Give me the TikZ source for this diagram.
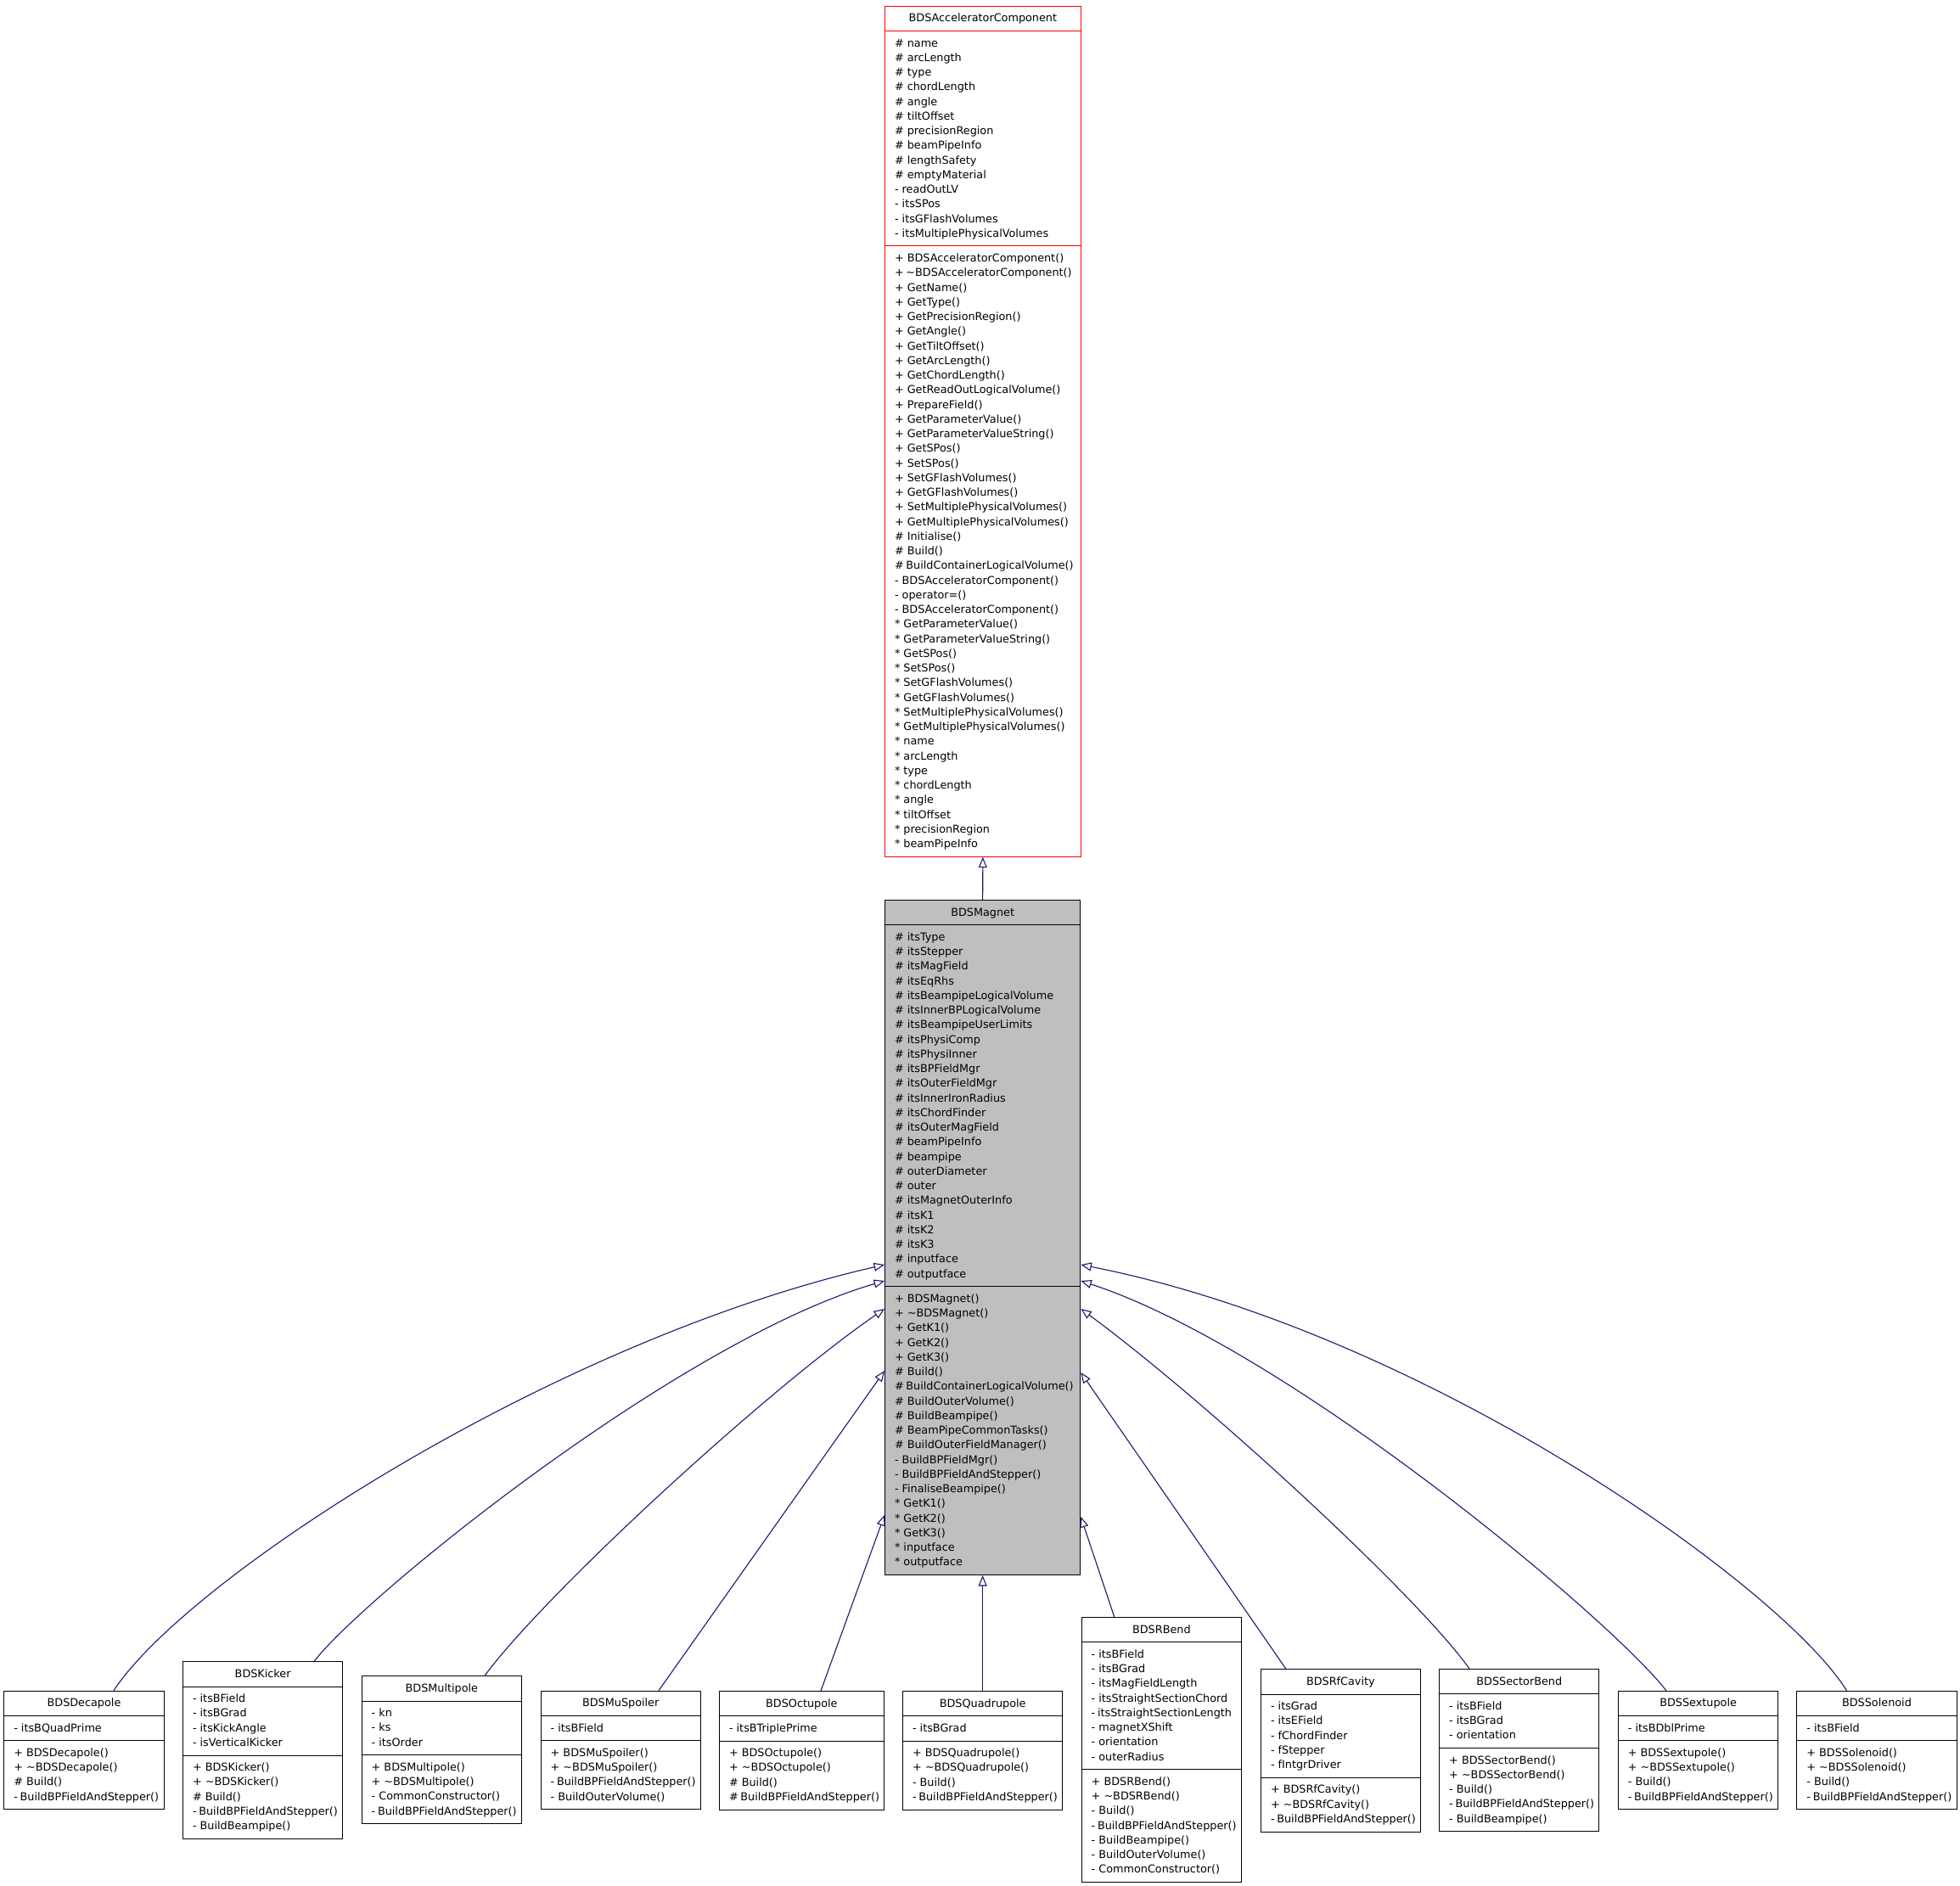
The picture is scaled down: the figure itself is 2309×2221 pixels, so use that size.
\documentclass[tikz,border=0pt]{standalone}
\usepackage{fontspec}
\setmainfont{DejaVu Sans}
\usetikzlibrary{shapes.multipart,arrows.meta,calc}
\definecolor{edgeblue}{HTML}{191970}
\definecolor{magfill}{HTML}{BFBFBF}
\definecolor{basered}{HTML}{FF0000}
\newlength\bw
\newcommand\Strut{\vrule width0pt height12.55pt depth4.7pt}
\newcommand\Ln[1]{\hbox to\bw{\Strut#1\hfil}}
\newcommand\Ttl[1]{\hbox to\bw{\hfil\Strut#1\hfil}}
\newcommand\Blk[1]{\vbox{\offinterlineskip#1}}
\tikzset{
  umlbox/.style={rectangle split, rectangle split parts=3, draw=black, fill=white,
    line width=1pt, inner xsep=11.5pt, inner ysep=5.5pt, anchor=north west,
    font=\fontsize{12.8pt}{17.25pt}\selectfont},
  baseclass/.style={draw=basered},
  focusclass/.style={fill=magfill},
  inh/.style={draw=edgeblue, line width=1.1pt, -{Triangle[open,length=12.5pt,width=10pt]}}
}
\newcommand\umlclass[8]{%
  \pgfmathsetlength{\bw}{#4-#2-23}%
  \node[umlbox,#5] (#1) at (#2,#3) {\Ttl{#6}\nodepart{second}\Blk{#7}\nodepart{third}\Blk{#8}};}
\begin{document}
\begin{tikzpicture}[x=1pt,y=-1pt]
\useasboundingbox (0,0) rectangle (2309,2221);

\umlclass{acc}{1042}{6.7}{1272.7}{baseclass}{BDSAcceleratorComponent}
{\Ln{\# name}\Ln{\# arcLength}\Ln{\# type}\Ln{\# chordLength}\Ln{\# angle}\Ln{\# tiltOffset}\Ln{\# precisionRegion}\Ln{\# beamPipeInfo}\Ln{\# lengthSafety}\Ln{\# emptyMaterial}\Ln{- readOutLV}\Ln{- itsSPos}\Ln{- itsGFlashVolumes}\Ln{- itsMultiplePhysicalVolumes}}
{\Ln{+ BDSAcceleratorComponent()}\Ln{+ \textasciitilde BDSAcceleratorComponent()}\Ln{+ GetName()}\Ln{+ GetType()}\Ln{+ GetPrecisionRegion()}\Ln{+ GetAngle()}\Ln{+ GetTiltOffset()}\Ln{+ GetArcLength()}\Ln{+ GetChordLength()}\Ln{+ GetReadOutLogicalVolume()}\Ln{+ PrepareField()}\Ln{+ GetParameterValue()}\Ln{+ GetParameterValueString()}\Ln{+ GetSPos()}\Ln{+ SetSPos()}\Ln{+ SetGFlashVolumes()}\Ln{+ GetGFlashVolumes()}\Ln{+ SetMultiplePhysicalVolumes()}\Ln{+ GetMultiplePhysicalVolumes()}\Ln{\# Initialise()}\Ln{\# Build()}\Ln{\# BuildContainerLogicalVolume()}\Ln{- BDSAcceleratorComponent()}\Ln{- operator=()}\Ln{- BDSAcceleratorComponent()}\Ln{* GetParameterValue()}\Ln{* GetParameterValueString()}\Ln{* GetSPos()}\Ln{* SetSPos()}\Ln{* SetGFlashVolumes()}\Ln{* GetGFlashVolumes()}\Ln{* SetMultiplePhysicalVolumes()}\Ln{* GetMultiplePhysicalVolumes()}\Ln{* name}\Ln{* arcLength}\Ln{* type}\Ln{* chordLength}\Ln{* angle}\Ln{* tiltOffset}\Ln{* precisionRegion}\Ln{* beamPipeInfo}}

\umlclass{mag}{1042}{1060}{1272.3}{focusclass}{BDSMagnet}
{\Ln{\# itsType}\Ln{\# itsStepper}\Ln{\# itsMagField}\Ln{\# itsEqRhs}\Ln{\# itsBeampipeLogicalVolume}\Ln{\# itsInnerBPLogicalVolume}\Ln{\# itsBeampipeUserLimits}\Ln{\# itsPhysiComp}\Ln{\# itsPhysiInner}\Ln{\# itsBPFieldMgr}\Ln{\# itsOuterFieldMgr}\Ln{\# itsInnerIronRadius}\Ln{\# itsChordFinder}\Ln{\# itsOuterMagField}\Ln{\# beamPipeInfo}\Ln{\# beampipe}\Ln{\# outerDiameter}\Ln{\# outer}\Ln{\# itsMagnetOuterInfo}\Ln{\# itsK1}\Ln{\# itsK2}\Ln{\# itsK3}\Ln{\# inputface}\Ln{\# outputface}}
{\Ln{+ BDSMagnet()}\Ln{+ \textasciitilde BDSMagnet()}\Ln{+ GetK1()}\Ln{+ GetK2()}\Ln{+ GetK3()}\Ln{\# Build()}\Ln{\# BuildContainerLogicalVolume()}\Ln{\# BuildOuterVolume()}\Ln{\# BuildBeampipe()}\Ln{\# BeamPipeCommonTasks()}\Ln{\# BuildOuterFieldManager()}\Ln{- BuildBPFieldMgr()}\Ln{- BuildBPFieldAndStepper()}\Ln{- FinaliseBeampipe()}\Ln{* GetK1()}\Ln{* GetK2()}\Ln{* GetK3()}\Ln{* inputface}\Ln{* outputface}}

\umlclass{dec}{4.3}{1991.7}{192.7}{}{BDSDecapole}
{\Ln{- itsBQuadPrime}}
{\Ln{+ BDSDecapole()}\Ln{+ \textasciitilde BDSDecapole()}\Ln{\# Build()}\Ln{- BuildBPFieldAndStepper()}}

\umlclass{kick}{215}{1957.3}{403.3}{}{BDSKicker}
{\Ln{- itsBField}\Ln{- itsBGrad}\Ln{- itsKickAngle}\Ln{- isVerticalKicker}}
{\Ln{+ BDSKicker()}\Ln{+ \textasciitilde BDSKicker()}\Ln{\# Build()}\Ln{- BuildBPFieldAndStepper()}\Ln{- BuildBeampipe()}}

\umlclass{multi}{425.7}{1974.3}{614}{}{BDSMultipole}
{\Ln{- kn}\Ln{- ks}\Ln{- itsOrder}}
{\Ln{+ BDSMultipole()}\Ln{+ \textasciitilde BDSMultipole()}\Ln{- CommonConstructor()}\Ln{- BuildBPFieldAndStepper()}}

\umlclass{musp}{636.7}{1991.7}{824.7}{}{BDSMuSpoiler}
{\Ln{- itsBField}}
{\Ln{+ BDSMuSpoiler()}\Ln{+ \textasciitilde BDSMuSpoiler()}\Ln{- BuildBPFieldAndStepper()}\Ln{- BuildOuterVolume()}}

\umlclass{oct}{847}{1992}{1040.7}{}{BDSOctupole}
{\Ln{- itsBTriplePrime}}
{\Ln{+ BDSOctupole()}\Ln{+ \textasciitilde BDSOctupole()}\Ln{\# Build()}\Ln{\# BuildBPFieldAndStepper()}}

\umlclass{quad}{1063}{1992}{1251.3}{}{BDSQuadrupole}
{\Ln{- itsBGrad}}
{\Ln{+ BDSQuadrupole()}\Ln{+ \textasciitilde BDSQuadrupole()}\Ln{- Build()}\Ln{- BuildBPFieldAndStepper()}}

\umlclass{rbend}{1273.7}{1905}{1462}{}{BDSRBend}
{\Ln{- itsBField}\Ln{- itsBGrad}\Ln{- itsMagFieldLength}\Ln{- itsStraightSectionChord}\Ln{- itsStraightSectionLength}\Ln{- magnetXShift}\Ln{- orientation}\Ln{- outerRadius}}
{\Ln{+ BDSRBend()}\Ln{+ \textasciitilde BDSRBend()}\Ln{- Build()}\Ln{- BuildBPFieldAndStepper()}\Ln{- BuildBeampipe()}\Ln{- BuildOuterVolume()}\Ln{- CommonConstructor()}}

\umlclass{rfc}{1485}{1966.3}{1672.7}{}{BDSRfCavity}
{\Ln{- itsGrad}\Ln{- itsEField}\Ln{- fChordFinder}\Ln{- fStepper}\Ln{- fIntgrDriver}}
{\Ln{+ BDSRfCavity()}\Ln{+ \textasciitilde BDSRfCavity()}\Ln{- BuildBPFieldAndStepper()}}

\umlclass{sbend}{1695.2}{1966}{1883.4}{}{BDSSectorBend}
{\Ln{- itsBField}\Ln{- itsBGrad}\Ln{- orientation}}
{\Ln{+ BDSSectorBend()}\Ln{+ \textasciitilde BDSSectorBend()}\Ln{- Build()}\Ln{- BuildBPFieldAndStepper()}\Ln{- BuildBeampipe()}}

\umlclass{sext}{1905.8}{1991.7}{2094.4}{}{BDSSextupole}
{\Ln{- itsBDblPrime}}
{\Ln{+ BDSSextupole()}\Ln{+ \textasciitilde BDSSextupole()}\Ln{- Build()}\Ln{- BuildBPFieldAndStepper()}}

\umlclass{sol}{2116.4}{1991.7}{2304.5}{}{BDSSolenoid}
{\Ln{- itsBField}}
{\Ln{+ BDSSolenoid()}\Ln{+ \textasciitilde BDSSolenoid()}\Ln{- Build()}\Ln{- BuildBPFieldAndStepper()}}

% attachment points on BDSMagnet
\coordinate (mL1) at ($(mag.north west)+(0,430)$);
\coordinate (mL2) at ($(mag.north west)+(0,449)$);
\coordinate (mL3) at ($(mag.north west)+(0,482)$);
\coordinate (mL4) at ($(mag.north west)+(0,555)$);
\coordinate (mL5) at ($(mag.north west)+(0,725)$);
\coordinate (mR1) at ($(mag.north east)+(0,430)$);
\coordinate (mR2) at ($(mag.north east)+(0,449)$);
\coordinate (mR3) at ($(mag.north east)+(0,482)$);
\coordinate (mR4) at ($(mag.north east)+(0,557)$);
\coordinate (mR5) at ($(mag.north east)+(0,727)$);

\draw[inh] (mag.north) -- (acc.south);
\draw[inh] ($(dec.north west)+(129.7,0)$) .. controls (220,1860) and (650,1580) .. (mL1);
\draw[inh] ($(kick.north west)+(155,0)$) .. controls (430,1880) and (800,1580) .. (mL2);
\draw[inh] ($(multi.north west)+(145.3,0)$) .. controls (640,1880) and (900,1640) .. (mL3);
\draw[inh] ($(musp.north west)+(139.3,0)$) -- (mL4);
\draw[inh] ($(oct.north west)+(120,0)$) -- (mL5);
\draw[inh] (quad.north) -- (mag.south);
\draw[inh] ($(rbend.north west)+(39,0)$) -- (mR5);
\draw[inh] ($(rfc.north west)+(30,0)$) -- (mR4);
\draw[inh] ($(sbend.north west)+(35.8,0)$) .. controls (1670,1880) and (1420,1650) .. (mR3);
\draw[inh] ($(sext.north west)+(57,0)$) .. controls (1900,1910) and (1520,1590) .. (mR2);
\draw[inh] ($(sol.north west)+(59,0)$) .. controls (2100,1870) and (1680,1570) .. (mR1);
\end{tikzpicture}
\end{document}
